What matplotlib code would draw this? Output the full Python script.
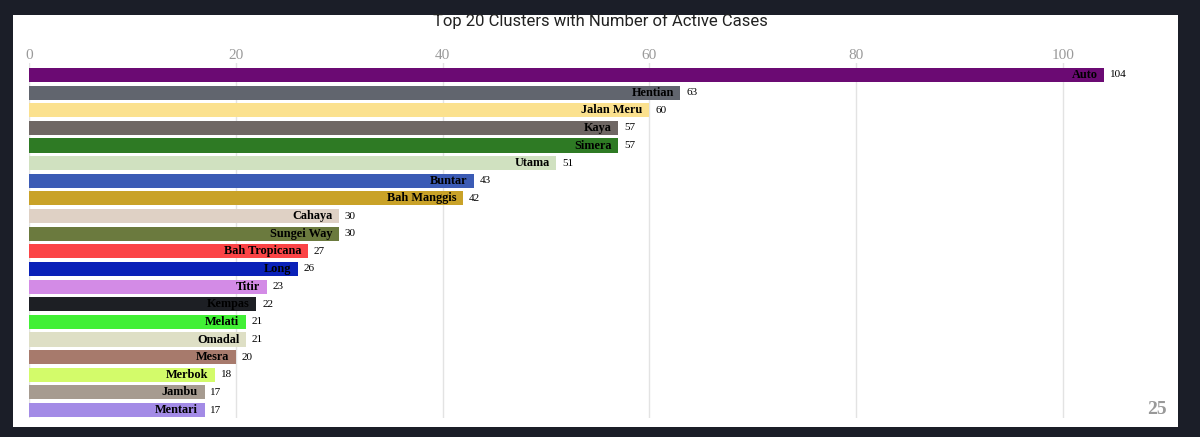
import matplotlib
matplotlib.use("agg")
from matplotlib import pyplot as plt
from matplotlib.patches import Rectangle

clusters = ["Auto", "Hentian", "Jalan Meru", "Kaya", "Simera", "Utama", "Buntar",
            "Bah Manggis", "Cahaya", "Sungei Way", "Bah Tropicana", "Long", "Titir",
            "Kempas", "Melati", "Omadal", "Mesra", "Merbok", "Jambu", "Mentari"]
cases = [104, 63, 60, 57, 57, 51, 43, 42, 30, 30, 27, 26, 23, 22, 21, 21, 20, 18, 17, 17]
colors = ["#6b0a73", "#61656e", "#fbe18e", "#6f6764", "#2e7a24", "#d0e1c0", "#3b5bb5",
          "#c9a228", "#dfd1c5", "#6b7a3e", "#fb4446", "#0a21b8", "#d38be6", "#1d1f24",
          "#41f035", "#dedfc5", "#a77a6c", "#d3fb6a", "#a69b90", "#a38be6"]
ticks = [0, 20, 40, 60, 80, 100]
frame_label = "25"

W, H = 1200, 437
fig = plt.figure(figsize=(W / 100, H / 100), dpi=100)
fig.patch.set_facecolor("#1b1e28")
# white panel
fig.add_artist(Rectangle((13 / W, 1 - 427 / H), (1178 - 13) / W, (427 - 15) / H,
                         transform=fig.transFigure, facecolor="white", edgecolor="none", zorder=0))

ax = fig.add_axes([29 / W, 1 - 418 / H, 1137.4 / W, 355 / H])
ax.set_facecolor("none")
ypos = list(range(len(clusters)))
ax.barh(ypos, cases, height=0.8, color=colors, zorder=3)
ax.set_xlim(0, 110)
ax.set_ylim(19.45, -0.68)

serif = ["Liberation Serif", "DejaVu Serif"]
for y, name, v in zip(ypos, clusters, cases):
    ax.text(v - 0.65, y, name, ha="right", va="center", fontsize=8.8, fontweight="bold",
            family=serif, color="black", zorder=4)
    ax.text(v + 0.55, y, str(v), ha="left", va="center", fontsize=8,
            family=serif, color="black", zorder=4)

ax.set_xticks(ticks)
ax.xaxis.tick_top()
ax.tick_params(axis="x", length=0, pad=1, labelsize=11, labelcolor="#9a9a9a")
for lab in ax.get_xticklabels():
    lab.set_family(serif)
ax.set_yticks([])
ax.grid(axis="x", color="#e3e3e3", linewidth=1, zorder=0)
for s in ax.spines.values():
    s.set_visible(False)

fig.text(600 / W, 1 - 21 / H, "Top 20 Clusters with Number of Active Cases",
         ha="center", va="center", fontsize=12, color="#222222", family="Roboto")
fig.text(1157 / W, 1 - 410 / H, frame_label, ha="center", va="center", fontsize=14,
         fontweight="bold", color="#999999", family=serif)

fig.savefig("out.png", dpi=100, facecolor=fig.get_facecolor())
